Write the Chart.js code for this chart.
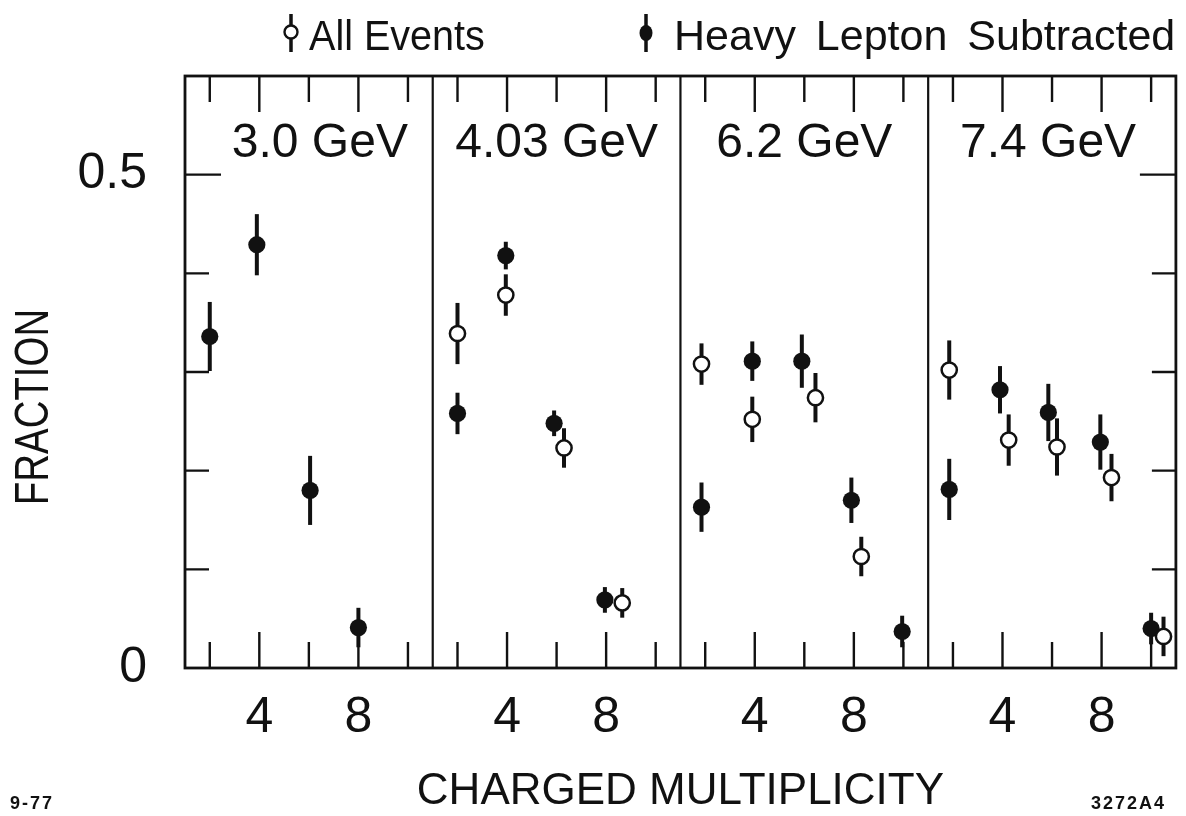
<!DOCTYPE html>
<html>
<head>
<meta charset="utf-8">
<script src="https://cdn.jsdelivr.net/npm/chart.js@4.4.0/dist/chart.umd.min.js"></script>
<style>
  html, body { margin: 0; padding: 0; background: #fff; }
  #wrap { width: 1186px; height: 816px; position: relative; }
</style>
</head>
<body>
<div id="wrap"><canvas id="chart"></canvas></div>
<script>
// one panel per beam energy, each spanning multiplicity 1..11
const energies = ["3.0 GeV", "4.03 GeV", "6.2 GeV", "7.4 GeV"];

// heavy lepton subtracted (filled markers)
const subMult = [
  [2, 3.9, 6.05, 8],
  [2, 3.95, 5.9, 7.95],
  [1.85, 3.9, 5.9, 7.9, 9.95],
  [1.85, 3.9, 5.85, 7.95, 10]
];
const subFrac = [
  [0.336, 0.429, 0.180, 0.041],
  [0.258, 0.418, 0.248, 0.069],
  [0.163, 0.311, 0.311, 0.170, 0.037],
  [0.181, 0.282, 0.259, 0.229, 0.040]
];
const subErr = [
  [0.035, 0.031, 0.035, 0.020],
  [0.021, 0.014, 0.013, 0.013],
  [0.025, 0.020, 0.027, 0.023, 0.016],
  [0.031, 0.024, 0.029, 0.028, 0.016]
];

// all events (open markers)
const allMult = [
  [],
  [2, 3.95, 6.3, 8.65],
  [1.85, 3.9, 6.45, 8.3],
  [1.85, 4.25, 6.2, 8.4, 10.5]
];
const allFrac = [
  [],
  [0.339, 0.378, 0.223, 0.066],
  [0.308, 0.252, 0.274, 0.113],
  [0.302, 0.231, 0.224, 0.193, 0.032]
];
const allErr = [
  [],
  [0.031, 0.021, 0.020, 0.015],
  [0.021, 0.023, 0.025, 0.020],
  [0.030, 0.026, 0.029, 0.024, 0.020]
];

const multTicks = [2, 4, 6, 8, 10];
const multLabels = [4, 8];
const fracTicks = [0.1, 0.2, 0.3, 0.4, 0.5];

const ink = "#111";
const face = "'Liberation Sans', Arial, sans-serif";
const panelSpan = 10; // multiplicity 1..11 per panel

function toX(panel, m) { return panel * panelSpan + (m - 1); }

function buildPoints(mult, frac, err) {
  const pts = [];
  mult.forEach((row, p) => row.forEach((m, i) => {
    pts.push({ x: toX(p, m), y: frac[p][i], e: err[p][i] });
  }));
  return pts;
}

const allPoints = buildPoints(allMult, allFrac, allErr);
const subPoints = buildPoints(subMult, subFrac, subErr);

function squeezedText(ctx, text, x, y, sx) {
  ctx.save();
  ctx.translate(x, y);
  ctx.scale(sx, 1);
  ctx.fillText(text, 0, 0);
  ctx.restore();
}

const framePlugin = {
  id: "frame",
  beforeDatasetsDraw(chart) {
    const { ctx, scales: { x, y } } = chart;
    ctx.save();
    ctx.strokeStyle = ink;
    ctx.lineWidth = 4;
    chart.data.datasets.forEach(ds => ds.data.forEach(p => {
      const px = x.getPixelForValue(p.x);
      ctx.beginPath();
      ctx.moveTo(px, y.getPixelForValue(p.y - p.e));
      ctx.lineTo(px, y.getPixelForValue(p.y + p.e));
      ctx.stroke();
    }));
    ctx.restore();
  },
  afterDraw(chart) {
    const { ctx, chartArea: a, scales: { x, y } } = chart;
    ctx.save();
    ctx.strokeStyle = ink;
    ctx.fillStyle = ink;

    // outer box
    ctx.lineWidth = 2.8;
    ctx.strokeRect(a.left, a.top, a.right - a.left, a.bottom - a.top);

    // panel dividers
    ctx.lineWidth = 2.2;
    for (let p = 1; p < energies.length; p++) {
      const px = x.getPixelForValue(p * panelSpan);
      ctx.beginPath();
      ctx.moveTo(px, a.top);
      ctx.lineTo(px, a.bottom);
      ctx.stroke();
    }

    // inward ticks on top and bottom of every panel
    ctx.lineWidth = 2.4;
    energies.forEach((_, p) => {
      multTicks.forEach(m => {
        const px = x.getPixelForValue(toX(p, m));
        const len = multLabels.includes(m) ? 36 : 26;
        ctx.beginPath();
        ctx.moveTo(px, a.top);
        ctx.lineTo(px, a.top + len);
        ctx.moveTo(px, a.bottom);
        ctx.lineTo(px, a.bottom - len);
        ctx.stroke();
      });
    });

    // inward ticks on the outer left and right edges
    fracTicks.forEach(v => {
      const py = y.getPixelForValue(v);
      const len = Math.abs(v - 0.5) < 1e-6 ? 36 : 24;
      ctx.beginPath();
      ctx.moveTo(a.left, py);
      ctx.lineTo(a.left + len, py);
      ctx.moveTo(a.right, py);
      ctx.lineTo(a.right - len, py);
      ctx.stroke();
    });

    // energy labels
    ctx.font = "48px " + face;
    ctx.textAlign = "center";
    ctx.textBaseline = "alphabetic";
    const labelShift = [11, 0, 0, -4];
    energies.forEach((t, p) => {
      const cx = x.getPixelForValue(p * panelSpan + panelSpan / 2) + labelShift[p];
      ctx.fillText(t, cx, 157);
    });

    // y title
    ctx.font = "48px " + face;
    ctx.save();
    ctx.translate(48, 407);
    ctx.rotate(-Math.PI / 2);
    ctx.textAlign = "center";
    squeezedText(ctx, "FRACTION", 0, 0, 0.8);
    ctx.restore();

    // legend
    const drawKey = (cx, filled) => {
      ctx.lineWidth = 3.5;
      ctx.beginPath();
      ctx.moveTo(cx, 14);
      ctx.lineTo(cx, 52);
      ctx.stroke();
      ctx.beginPath();
      if (filled) {
        ctx.ellipse(cx, 33, 6.5, 8, 0, 0, Math.PI * 2);
        ctx.fillStyle = ink;
        ctx.fill();
      } else {
        ctx.arc(cx, 32, 6.5, 0, Math.PI * 2);
        ctx.fillStyle = "#fff";
        ctx.fill();
        ctx.lineWidth = 2.4;
        ctx.stroke();
      }
      ctx.fillStyle = ink;
    };
    drawKey(291, false);
    drawKey(646, true);
    ctx.font = "43px " + face;
    ctx.textAlign = "left";
    squeezedText(ctx, "All Events", 309, 50, 0.92);
    ctx.wordSpacing = "8px";
    ctx.fillText("Heavy Lepton Subtracted", 674, 50);
    ctx.wordSpacing = "0px";

    // drawing numbers in the corners
    ctx.font = "bold 18px " + face;
    ctx.letterSpacing = "2px";
    ctx.fillText("9-77", 10, 809);
    ctx.textAlign = "right";
    ctx.fillText("3272A4", 1166, 809);
    ctx.letterSpacing = "0px";
    ctx.restore();
  }
};

new Chart(document.getElementById("chart"), {
  type: "scatter",
  data: {
    datasets: [
      {
        label: "All Events",
        data: allPoints,
        pointRadius: 7.6,
        pointHoverRadius: 7.6,
        pointBackgroundColor: "#fff",
        pointBorderColor: ink,
        pointBorderWidth: 2.5
      },
      {
        label: "Heavy Lepton Subtracted",
        data: subPoints,
        pointRadius: 8.6,
        pointHoverRadius: 8.6,
        pointBackgroundColor: ink,
        pointBorderColor: ink,
        pointBorderWidth: 0
      }
    ]
  },
  options: {
    responsive: true,
    maintainAspectRatio: false,
    animation: false,
    layout: { padding: { top: 76, right: 9, left: 0, bottom: 0 } },
    plugins: {
      legend: { display: false },
      tooltip: { enabled: false }
    },
    scales: {
      x: {
        type: "linear",
        min: 0,
        max: panelSpan * energies.length,
        grid: { display: false, drawTicks: false },
        border: { display: false },
        afterBuildTicks: s => {
          const t = [];
          energies.forEach((_, p) => multLabels.forEach(m => t.push({ value: toX(p, m) })));
          s.ticks = t;
        },
        afterFit: s => { s.height = 148; },
        ticks: {
          padding: 20,
          color: ink,
          maxRotation: 0,
          autoSkip: false,
          font: { family: face, size: 50 },
          callback: v => String(Math.round(v % panelSpan) + 1)
        },
        title: {
          display: true,
          text: "CHARGED MULTIPLICITY",
          color: ink,
          font: { family: face, size: 44, lineHeight: 1.1 },
          padding: 0
        }
      },
      y: {
        min: 0,
        max: 0.6,
        grid: { display: false, drawTicks: false },
        border: { display: false },
        afterFit: s => { s.width = 185; },
        ticks: {
          stepSize: 0.1,
          padding: 38,
          color: ink,
          font: { family: face, size: 50 },
          callback: v => (v === 0 ? "0" : Math.abs(v - 0.5) < 1e-6 ? "0.5" : "")
        }
      }
    }
  },
  plugins: [framePlugin]
});
</script>
</body>
</html>
